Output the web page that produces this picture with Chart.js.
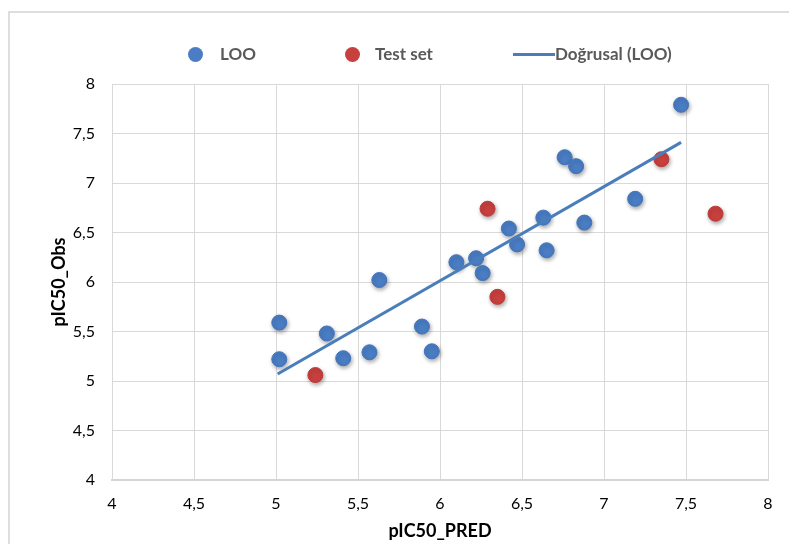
<!DOCTYPE html>
<html>
<head>
<meta charset="utf-8">
<script src="https://cdn.jsdelivr.net/npm/chart.js@4.4.1/dist/chart.umd.min.js"></script>
<style>
html, body { margin: 0; padding: 0; background: #fff; }
.wrap { position: relative; width: 789px; height: 544px; overflow: hidden; }
.frame { position: absolute; left: 8px; top: 11px; width: 800px; height: 560px; border: 2px solid #dedede; box-sizing: border-box; }
canvas { position: absolute; left: 0; top: 0; }
.legend { position: absolute; top: 43px; left: 0; font: bold 17px Lato, sans-serif; color: #595959; }
.legend span { position: absolute; white-space: nowrap; line-height: 22px; }
.dot { width: 15px; height: 15px; border-radius: 50%; top: 4px; }
.ln { width: 42px; height: 3px; top: 10px; }
</style>
</head>
<body>
<div class="wrap">
    <div class="frame"></div>
    <canvas id="grafico"></canvas>
    <div class="legend">
        <span class="dot" style="left:188px; background:#4a7dc4"></span>
        <span style="left:220px">LOO</span>
        <span class="dot" style="left:345px; background:#c8403e"></span>
        <span style="left:375px">Test set</span>
        <span class="ln" style="left:513px; background:#4a7ebb"></span>
        <span style="left:555px">Doğrusal (LOO)</span>
    </div>
</div>

<script>
// LOO
const looX = [5.02, 5.02, 5.31, 5.41, 5.57, 5.63, 5.89, 5.95, 6.10, 6.22, 6.26, 6.42, 6.47, 6.63, 6.65, 6.76, 6.83, 6.88, 7.19, 7.47];
const looY = [5.59, 5.22, 5.48, 5.23, 5.29, 6.02, 5.55, 5.30, 6.20, 6.24, 6.09, 6.54, 6.38, 6.65, 6.32, 7.26, 7.17, 6.60, 6.84, 7.79];

// Test set
const testX = [5.24, 6.29, 6.35, 7.35, 7.68];
const testY = [5.06, 6.74, 5.85, 7.24, 6.69];

// Linha de tendência (extremos)
const trendX = [5.01, 7.47];
const trendY = [5.07, 7.41];

const axisTicks = [4, 4.5, 5, 5.5, 6, 6.5, 7, 7.5, 8];

const pts = (xs, ys) => xs.map((x, i) => ({ x: x, y: ys[i] }));
const virgula = v => String(v).replace('.', ',');

const sombra = {
    id: 'sombra',
    beforeDatasetDraw(chart, args) {
        const ctx = chart.ctx;
        ctx.save();
        if (args.meta.type === 'scatter') {
            ctx.shadowColor = 'rgba(0,0,0,0.35)';
            ctx.shadowBlur = 4;
            ctx.shadowOffsetX = 1;
            ctx.shadowOffsetY = 2;
        }
    },
    afterDatasetDraw(chart) {
        chart.ctx.restore();
    }
};

const cv = document.getElementById('grafico');
cv.width = 789;
cv.height = 544;

new Chart(cv.getContext('2d'), {
    type: 'scatter',
    data: {
        datasets: [{
            type: 'line',
            label: 'Doğrusal (LOO)',
            data: pts(trendX, trendY),
            borderColor: '#4a7ebb',
            borderWidth: 3,
            pointRadius: 0,
            fill: false
        }, {
            label: 'LOO',
            data: pts(looX, looY),
            backgroundColor: '#4a7dc4',
            borderColor: '#4274bc',
            borderWidth: 1,
            pointRadius: 7.5,
            pointHoverRadius: 7.5
        }, {
            label: 'Test set',
            data: pts(testX, testY),
            backgroundColor: '#c8403e',
            borderColor: '#bb3a38',
            borderWidth: 1,
            pointRadius: 7.5,
            pointHoverRadius: 7.5
        }]
    },
    options: {
        responsive: false,
        animation: false,
        layout: { padding: { left: 0, top: 84, right: 21, bottom: 0 } },
        plugins: {
            legend: { display: false },
            tooltip: { enabled: false }
        },
        scales: {
            x: {
                type: 'linear',
                min: 4,
                max: 8,
                afterBuildTicks: s => { s.ticks = axisTicks.map(v => ({ value: v })); },
                afterFit: s => { s.height = 64; },
                grid: { color: '#d9d9d9', drawTicks: false },
                border: { color: '#d4d4d4', width: 2 },
                ticks: {
                    padding: 14,
                    color: '#000',
                    font: { family: 'Lato', size: 16 },
                    callback: virgula
                },
                title: {
                    display: true,
                    text: 'pIC50_PRED',
                    color: '#000',
                    font: { family: 'Lato', size: 18, weight: 'bold' },
                    padding: { top: 0, bottom: 2 }
                }
            },
            y: {
                type: 'linear',
                min: 4,
                max: 8,
                afterBuildTicks: s => { s.ticks = axisTicks.map(v => ({ value: v })); },
                afterFit: s => { s.width = 112; },
                grid: { color: '#d9d9d9', drawTicks: false },
                border: { color: '#d9d9d9', width: 1 },
                ticks: {
                    padding: 17,
                    color: '#000',
                    font: { family: 'Lato', size: 16 },
                    callback: virgula
                },
                title: {
                    display: true,
                    text: 'pIC50_Obs',
                    color: '#000',
                    font: { family: 'Lato', size: 18, weight: 'bold' },
                    padding: { top: 48, bottom: 0 }
                }
            }
        }
    },
    plugins: [sombra]
});
</script>
</body>
</html>
